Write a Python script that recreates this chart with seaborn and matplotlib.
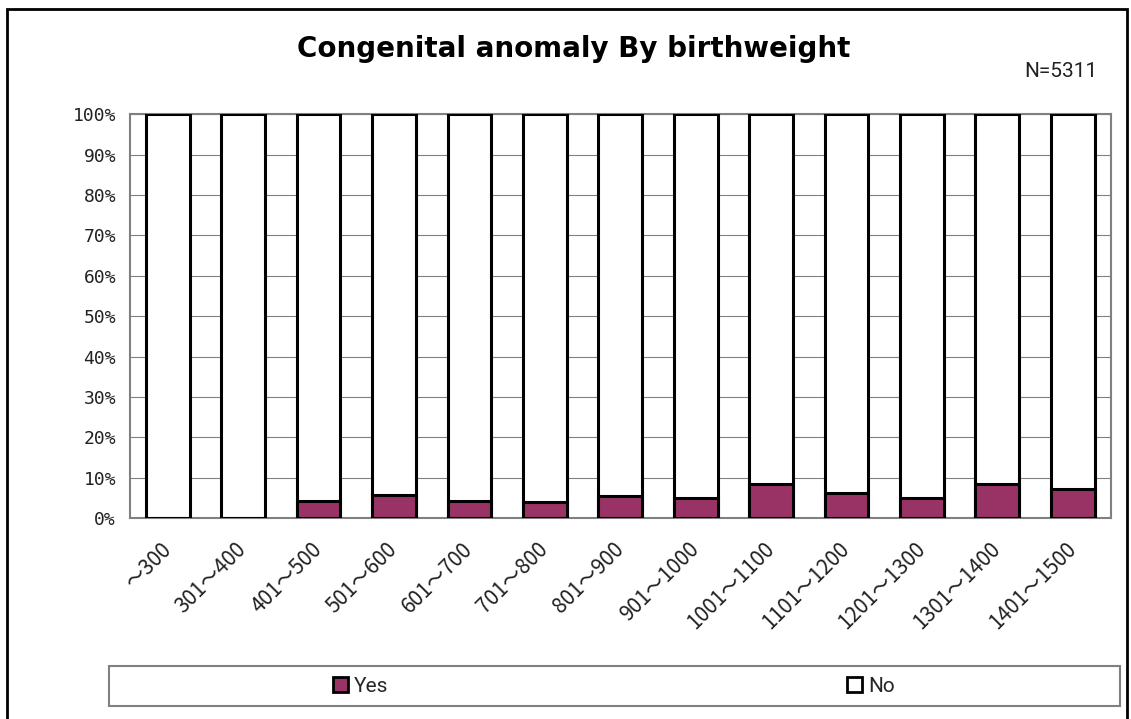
import numpy as np
import pandas as pd
import matplotlib
matplotlib.use("Agg")
import matplotlib.pyplot as plt
from matplotlib.patches import Patch, Rectangle
import seaborn as sns

# data
categories = ['～300', '301～400', '401～500', '501～600', '601～700', '701～800',
              '801～900', '901～1000', '1001～1100', '1101～1200', '1201～1300',
              '1301～1400', '1401～1500']
yes_pct = [0.0, 0.0, 4.4, 5.8, 4.2, 4.0, 5.6, 5.1, 8.4, 6.2, 5.0, 8.5, 7.2]
no_pct = [100 - v for v in yes_pct]
y_ticks = list(range(0, 101, 10))
y_tick_labels = [f'{v}%' for v in y_ticks]

df = pd.DataFrame({'range': categories, 'Yes': yes_pct, 'No': no_pct})
df['total'] = df['Yes'] + df['No']

sns.set_theme(style="white")
plt.rcParams['font.family'] = ['Roboto', 'DejaVu Sans']

fig = plt.figure(figsize=(11.31, 7.19), dpi=100)
W, H = 1131, 719
ax = fig.add_axes([130 / W, 1 - 518.3 / H, 980.5 / W, 404 / H])

purple = '#993366'
grey = '#808080'

# stacked 100% bars: full white bar, then the "Yes" part on top of it
sns.barplot(data=df, x='range', y='total', color='white', saturation=1,
            edgecolor='black', linewidth=2.2, width=0.58, ax=ax, zorder=3)
sns.barplot(data=df, x='range', y='Yes', color=purple, saturation=1,
            edgecolor='black', linewidth=2.2, width=0.58, ax=ax, zorder=4)

ax.set_ylim(0, 100)
ax.set_xlim(-0.5, len(categories) - 0.5)
ax.set_yticks(y_ticks)
ax.set_yticklabels(y_tick_labels, family='DejaVu Sans Mono', fontsize=13, color='#222222')
ax.set_xticks(range(len(categories)))
ax.set_xticklabels(categories, rotation=45, ha='right', va='center', rotation_mode='anchor',
                   family=['Noto Sans CJK JP', 'DejaVu Sans'], fontsize=15, color='#222222')
ax.set_xticks(np.arange(0.5, len(categories) - 0.5, 1), minor=True)
ax.tick_params(axis='x', which='major', length=0, pad=20)
ax.tick_params(axis='x', which='minor', direction='in', length=5, width=1, color=grey)
ax.tick_params(axis='y', which='major', direction='out', length=4, width=1, color=grey, pad=6)
ax.set_xlabel('')
ax.set_ylabel('')

ax.yaxis.grid(True, color=grey, linewidth=0.8)
ax.set_axisbelow(True)
for side in ['left', 'bottom', 'right', 'top']:
    ax.spines[side].set_color(grey)
    ax.spines[side].set_linewidth(1.5)

# title and sample size
fig.text(574 / W, 1 - 57 / H, 'Congenital anomaly By birthweight', ha='center', va='baseline',
         fontsize=20, fontweight='bold', family='DejaVu Sans', color='black')
fig.text(1098 / W, 1 - 76.7 / H, 'N=5311', ha='right', va='baseline', fontsize=15, color='#222222')

# legend box along the bottom
fig.patches.append(Rectangle((109 / W, 1 - 706 / H), 1011 / W, 40 / H, transform=fig.transFigure,
                             facecolor='white', edgecolor=grey, linewidth=1.5))
handles = [Patch(facecolor=purple, edgecolor='black', linewidth=2, label='Yes'),
           Patch(facecolor='white', edgecolor='black', linewidth=2, label='No')]
fig.legend(handles=handles, loc='center left', bbox_to_anchor=(333 / W, 1 - 686 / H), ncol=2,
           frameon=False, fontsize=15, handlelength=0.72, handleheight=0.7, handletextpad=0.3,
           columnspacing=22.0, borderpad=0, borderaxespad=0)

# outer chart border (open at the bottom, as in the reference)
fig.patches.append(Rectangle((7 / W, -0.05), 1120 / W, 1.05 - 9 / H, transform=fig.transFigure,
                             facecolor='none', edgecolor='black', linewidth=2))

fig.savefig('out.png', dpi=100)
